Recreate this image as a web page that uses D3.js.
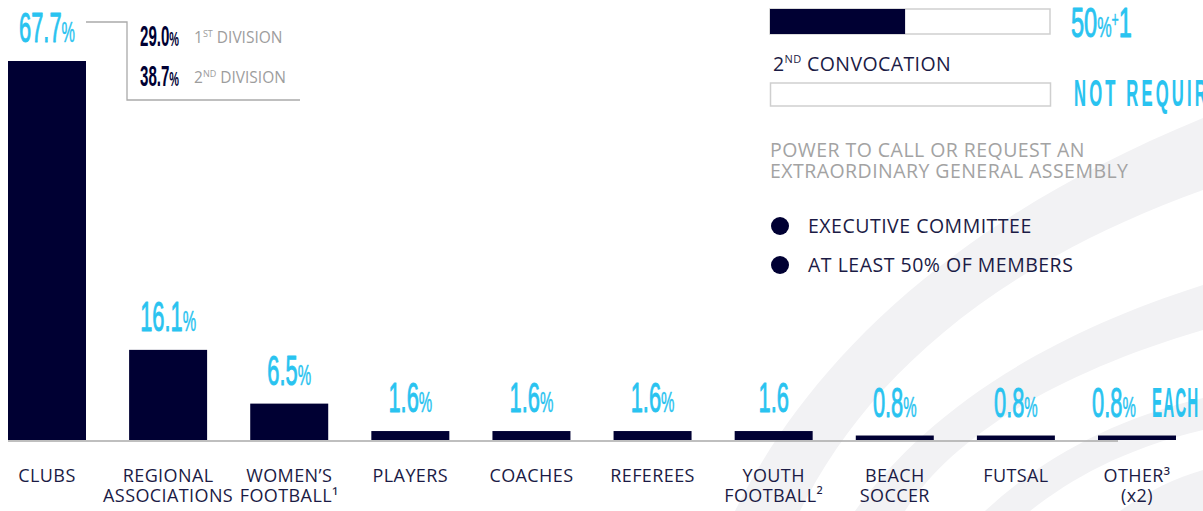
<!DOCTYPE html>
<html><head><meta charset="utf-8">
<script src="https://cdn.jsdelivr.net/npm/d3@7"></script>
<style>
html,body{margin:0;padding:0;background:#fff;overflow:hidden;}
svg{display:block;}
</style></head>
<body>
<svg id="c" width="1203" height="511"></svg>
<script>
// ---- data ----
const categories = ["CLUBS","REGIONAL ASSOCIATIONS","WOMEN’S FOOTBALL","PLAYERS","COACHES","REFEREES","YOUTH FOOTBALL","BEACH SOCCER","FUTSAL","OTHER"];
const labelLines = [["CLUBS"],["REGIONAL","ASSOCIATIONS"],["WOMEN’S","FOOTBALL¹"],["PLAYERS"],["COACHES"],["REFEREES"],["YOUTH","FOOTBALL²"],["BEACH","SOCCER"],["FUTSAL"],["OTHER³","(x2)"]];
const values = [67.7,16.1,6.5,1.6,1.6,1.6,1.6,0.8,0.8,0.8];
const valueText = ["67.7","16.1","6.5","1.6","1.6","1.6","1.6","0.8","0.8","0.8"];
const valuePct = [true,true,true,true,true,true,false,true,true,true];
const valueExtra = ["","","","","","","","","","EACH"];
const clubSplit = [{v:"29.0",label:"1",sup:"ST",rest:" DIVISION"},{v:"38.7",label:"2",sup:"ND",rest:" DIVISION"}];
const quorumShare = [0.5, 0];   // first convocation, second convocation
const quorumText = ["50%+1","NOT REQUIRED"];
const legendItems = ["EXECUTIVE COMMITTEE","AT LEAST 50% OF MEMBERS"];
const powerLines = ["POWER TO CALL OR REQUEST AN","EXTRAORDINARY GENERAL ASSEMBLY"];

const NAVY = "#000033", CYAN = "#29c3f0", GREY = "#9d9d9d", TEXT = "#1b1b45";
const NUMFONT = "'Liberation Sans', Arial, sans-serif";
const svg = d3.select("#c");

// ---- background swooshes ----
const bg = svg.append("g").attr("fill","#f2f2f4");
const swooshes = [
  "M735,511 C800,380 930,230 1203,118 L1203,190 C980,270 860,390 800,511 Z",
  "M855,511 C920,420 1030,340 1203,285 L1203,330 C1050,375 950,440 905,511 Z",
  "M985,511 C1040,460 1110,420 1203,398 L1203,430 C1120,450 1070,480 1030,511 Z",
  "M1120,511 C1150,490 1175,478 1203,470 L1203,511 Z"
];
bg.selectAll("path").data(swooshes).join("path").attr("d", d=>d);

// ---- scales ----
const x = d3.scaleBand().domain(categories).range([8,1176]).paddingInner(0.356).paddingOuter(0);
const y = d3.scaleLinear().domain([0,67.7]).range([440,61]);

// baseline
svg.append("line").attr("x1",8).attr("x2",1118).attr("y1",441).attr("y2",441)
  .attr("stroke","#aaaaaa").attr("stroke-width",1.5);

// bars
svg.append("g").selectAll("rect").data(values).join("rect")
  .attr("x",(d,i)=>x(categories[i])).attr("width",x.bandwidth())
  .attr("y",d=>y(d)).attr("height",d=>440-y(d)).attr("fill",NAVY);

// helper: condensed display text
function condensed(parent, tx, ty, sx, anchor){
  return parent.append("g").attr("transform",`translate(${tx},${ty}) scale(${sx},1)`)
    .append("text").attr("text-anchor",anchor).attr("font-family",NUMFONT)
    .attr("fill",CYAN).attr("stroke",CYAN).attr("stroke-width",1.0).attr("stroke-linejoin","round");
}

// value labels
const vlay = svg.append("g");
values.forEach((d,i)=>{
  const cx = x(categories[i])+x.bandwidth()/2;
  const by = y(d)-19;
  const off = valueExtra[i] ? -23 : 0;
  const t = condensed(vlay, cx+off, by, 0.52, "middle").attr("font-size",42);
  t.append("tspan").text(valueText[i]);
  if(valuePct[i]) t.append("tspan").attr("font-size",29).attr("stroke-width",0.5).text("%");
  if(valueExtra[i]){
    const e = condensed(vlay, cx+15, by, 0.36, "start").attr("font-size",42).attr("font-weight","bold")
      .attr("stroke-width",0.2).attr("letter-spacing",3);
    e.text(valueExtra[i]);
  }
});

// bracket for clubs split
svg.append("path").attr("d","M86,22 H127 V100 H300").attr("fill","none")
  .attr("stroke","#aaaaaa").attr("stroke-width",1.3);
clubSplit.forEach((s,i)=>{
  const by = 46 + i*40;
  const g = svg.append("g").attr("transform",`translate(140,${by}) scale(0.52,1)`);
  const t = g.append("text").attr("font-family",NUMFONT)
    .attr("font-weight","bold").attr("font-size",29).attr("fill",NAVY);
  t.append("tspan").text(s.v);
  t.append("tspan").attr("font-size",21).text("%");
  const l = svg.append("text").attr("x",194).attr("y",by-3)
    .attr("font-family","'Open Sans', sans-serif").attr("font-size",15.5).attr("fill",GREY);
  l.append("tspan").text(s.label);
  l.append("tspan").attr("font-size",9).attr("dy",-6).text(s.sup);
  l.append("tspan").attr("dy",6).text(s.rest);
});

// quorum boxes
const qx = d3.scaleLinear().domain([0,1]).range([770,1050]);
const boxY = [9,83], boxH = [25,23];
quorumShare.forEach((q,i)=>{
  svg.append("rect").attr("x",qx(0)+(i?0.5:0)).attr("y",boxY[i]).attr("width",qx(1)-qx(0)).attr("height",boxH[i])
    .attr("fill","#fff").attr("stroke","#cfcfcf").attr("stroke-width",1.5);
  if(q>0) svg.append("rect").attr("x",qx(0)).attr("y",boxY[i]).attr("width",(qx(q)-qx(0))*0.965).attr("height",boxH[i]).attr("fill",NAVY);
});
// 50%+1 / NOT REQUIRED
{
  const t = condensed(svg, 1071, 37, 0.56, "start").attr("font-size",42);
  t.append("tspan").text("50");
  t.append("tspan").attr("font-size",29).attr("stroke-width",0.5).text("%");
  t.append("tspan").attr("font-size",22).attr("stroke-width",0.5).attr("dy",-10).text("+");
  t.append("tspan").attr("dy",10).text("1");
  const t2 = condensed(svg, 1074, 106, 0.45, "start").attr("font-size",37).attr("font-weight","bold")
    .attr("stroke-width",0.2).attr("letter-spacing",7);
  t2.text(quorumText[1]);
}
// 2nd convocation
{
  const t = svg.append("text").attr("x",773).attr("y",71).attr("font-family","'Open Sans', sans-serif")
    .attr("font-size",19.5).attr("letter-spacing",0.4).attr("fill",TEXT);
  t.append("tspan").text("2");
  t.append("tspan").attr("font-size",11).attr("dy",-8).text("ND");
  t.append("tspan").attr("dy",8).text(" CONVOCATION");
}
// power to call
powerLines.forEach((s,i)=>{
  svg.append("text").attr("x",770).attr("y",157+i*21).attr("font-family","'Open Sans', sans-serif")
    .attr("font-size",19.5).attr("letter-spacing",0.45).attr("fill","#a3a3a3").text(s);
});
// legend
legendItems.forEach((s,i)=>{
  const cy = 226 + i*39;
  svg.append("circle").attr("cx",780).attr("cy",cy).attr("r",9).attr("fill",NAVY);
  svg.append("text").attr("x",808).attr("y",cy+7).attr("font-family","'Open Sans', sans-serif")
    .attr("font-size",19.5).attr("letter-spacing",0.5).attr("fill",TEXT).text(s);
});

// category labels
const cl = svg.append("g").selectAll("text").data(labelLines).join("text")
  .attr("text-anchor","middle").attr("font-family","'Open Sans', sans-serif")
  .attr("font-size",18).attr("letter-spacing",0.4).attr("fill",TEXT)
  .attr("x",(d,i)=>x(categories[i])+x.bandwidth()/2);
cl.each(function(lines){
  const t = d3.select(this);
  lines.forEach((ln,j)=>{
    t.append("tspan").attr("x",t.attr("x")).attr("y",482+j*20).text(ln);
  });
});
</script>
</body></html>
